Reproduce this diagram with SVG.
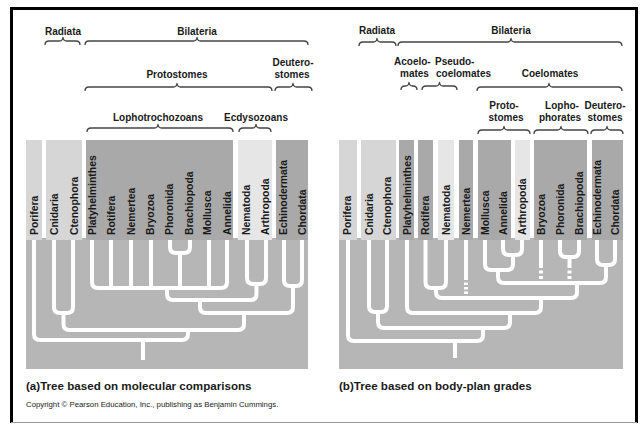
<svg xmlns="http://www.w3.org/2000/svg" width="643" height="424" viewBox="0 0 643 424">
<style>
text{font-family:"Liberation Sans",Arial,sans-serif;fill:#1a1a1a;font-weight:bold}
.hd{font-size:10px;text-anchor:middle}
.hs{font-size:10px}
.col{font-size:10.4px}
.cap{font-size:11.6px}
.cr{font-size:7.8px;font-weight:normal}
.lt{fill:#d6d6d6}
.xl{fill:#e6e6e6}
.dk{fill:#a9a9a9}
.bg{fill:#b6b6b6}
.br{fill:none;stroke:#fff;stroke-width:4}
.ds{fill:none;stroke:#fff;stroke-width:4}
.bc{fill:none;stroke:#444;stroke-width:1.3;stroke-linejoin:round}
</style>
<rect width="643" height="424" fill="#fff"/>
<path d="M11.5,423 V8.5 H636.5 V423" fill="none" stroke="#000" stroke-width="3"/>
<line x1="11" y1="422.5" x2="637" y2="422.5" stroke="#999" stroke-width="1"/>

<!-- Panel A backgrounds -->
<g id="panelA-bg">
<rect class="bg" x="26" y="238" width="282" height="131"/>
<rect class="lt" x="26" y="140" width="16" height="100"/>
<rect class="lt" x="46" y="140" width="36" height="100"/>
<rect class="dk" x="86" y="140" width="147" height="100"/>
<rect class="xl" x="238" y="140" width="34" height="100"/>
<rect class="dk" x="276" y="140" width="32" height="100"/>
</g>
<!-- Panel B backgrounds -->
<g id="panelB-bg">
<rect class="bg" x="339" y="238" width="284" height="131"/>
<rect class="lt" x="339" y="140" width="18" height="100"/>
<rect class="lt" x="361" y="140" width="35" height="100"/>
<rect class="dk" x="399" y="140" width="15" height="100"/>
<rect class="dk" x="418" y="140" width="15" height="100"/>
<rect class="xl" x="438" y="140" width="16" height="100"/>
<rect class="dk" x="459" y="140" width="14" height="100"/>
<rect class="dk" x="478" y="140" width="33" height="100"/>
<rect class="xl" x="515" y="140" width="15" height="100"/>
<rect class="dk" x="534" y="140" width="53" height="100"/>
<rect class="dk" x="592" y="140" width="31" height="100"/>
</g>

<g id="connectors">
<!-- Tree A -->
<path class="br" d="M34,240 V334 Q34,340 40,340 H182 Q188,340 188,334 V330"/>
<path class="br" d="M143,340 V360"/>
<path class="br" d="M54,240 V307 Q54,313 60,313 H67 Q73,313 73,307 V240"/>
<path class="br" d="M63.5,313 V324 Q63.5,330 69.5,330 H238 Q244,330 244,324 V313"/>
<path class="br" d="M200,300 V307 Q200,313 206,313 H287 Q293,313 293,307 V286"/>
<path class="br" d="M284,240 V280 Q284,286 290,286 H296 Q302,286 302,280 V240"/>
<path class="br" d="M167,288 V294 Q167,300 173,300 H250.5 Q256.5,300 256.5,294 V284"/>
<path class="br" d="M247,240 V278 Q247,284 253,284 H260 Q266,284 266,278 V240"/>
<path class="br" d="M92,240 V282 Q92,288 98,288 H221 Q227,288 227,282 V240"/>
<path class="br" d="M111,240 V288 M131,240 V288 M151,240 V288 M209,240 V288 M180,253 V288"/>
<path class="br" d="M170,240 V247 Q170,253 176,253 H184 Q190,253 190,247 V240"/>
<!-- Tree B -->
<path class="br" d="M348,240 V335 Q348,341 354,341 H477 Q483,341 483,335 V328"/>
<path class="br" d="M455,341 V358"/>
<path class="br" d="M369,240 V306 Q369,312 375,312 H381 Q387,312 387,306 V240"/>
<path class="br" d="M378,312 V322 Q378,328 384,328 H504 Q510,328 510,322 V313"/>
<path class="br" d="M407,240 V307 Q407,313 413,313 H535 Q541,313 541,307 V298"/>
<path class="br" d="M436,288 V292 Q436,298 442,298 H571 Q577,298 577,292 V283"/>
<path class="br" d="M425.5,240 V282 Q425.5,288 431.5,288 H440 Q446,288 446,282 V240"/>
<path class="br" d="M466,240 V280"/>
<path class="ds" d="M466,282.5 V285 M466,287 V289.5 M466,291.5 V294"/>
<path class="br" d="M498,270 V277 Q498,283 504,283 H600 Q606,283 606,277 V265"/>
<path class="br" d="M485,240 V264 Q485,270 491,270 H507 Q513,270 513,264 V255"/>
<path class="br" d="M503,240 V249 Q503,255 509,255 H516 Q522,255 522,249 V240"/>
<path class="br" d="M597,240 V259 Q597,265 603,265 H609 Q615,265 615,259 V240"/>
<path class="br" d="M541,240 V268 M569.5,257 V268"/>
<path class="br" d="M560,240 V251 Q560,257 566,257 H573 Q579,257 579,251 V240"/>
<path class="ds" d="M541,270.5 V273.5 M541,276 V279 M569.5,270.5 V273.5 M569.5,276 V279"/>
<!-- Braces A -->
<path class="bc" d="M45,45 Q45,41 49,41 H59.5 Q62.5,41 63,37.5 Q63.5,41 66.5,41 H76 Q80,41 80,45"/>
<path class="bc" d="M85,45 Q85,41 89,41 H193.5 Q196.5,41 197,37.5 Q197.5,41 200.5,41 H304 Q308,41 308,45"/>
<path class="bc" d="M85,91 Q85,87 89,87 H173.5 Q176.5,87 177,83.5 Q177.5,87 180.5,87 H268 Q272,87 272,91"/>
<path class="bc" d="M275,91 Q275,87 279,87 H289.5 Q292.5,87 293,83.5 Q293.5,87 296.5,87 H308 Q312,87 312,91"/>
<path class="bc" d="M87,132 Q87,128 91,128 H154.5 Q157.5,128 158,124.5 Q158.5,128 161.5,128 H229 Q233,128 233,132"/>
<path class="bc" d="M239,132 Q239,128 243,128 H252.5 Q255.5,128 256,124.5 Q256.5,128 259.5,128 H267 Q271,128 271,132"/>
<!-- Braces B -->
<path class="bc" d="M359,46 Q359,42 363,42 H373.5 Q376.5,42 377,38.5 Q377.5,42 380.5,42 H392 Q396,42 396,46"/>
<path class="bc" d="M398,46 Q398,42 402,42 H507.5 Q510.5,42 511,38.5 Q511.5,42 514.5,42 H618 Q622,42 622,46"/>
<path class="bc" d="M401,90 Q401,86 405,86 H405.5 Q408.5,86 409,82.5 Q409.5,86 412.5,86 H413 Q417,86 417,90"/>
<path class="bc" d="M422,90 Q422,86 426,86 H436 Q439,86 439.5,82.5 Q440,86 443,86 H453 Q457,86 457,90"/>
<path class="bc" d="M477,91 Q477,87 481,87 H545.5 Q548.5,87 549,83.5 Q549.5,87 552.5,87 H618 Q622,87 622,91"/>
<path class="bc" d="M478,134 Q478,130 482,130 H500.5 Q503.5,130 504,126.5 Q504.5,130 507.5,130 H526 Q530,130 530,134"/>
<path class="bc" d="M534,134 Q534,130 538,130 H557.5 Q560.5,130 561,126.5 Q561.5,130 564.5,130 H584 Q588,130 588,134"/>
<path class="bc" d="M591,134 Q591,130 595,130 H603.5 Q606.5,130 607,126.5 Q607.5,130 610.5,130 H619 Q623,130 623,134"/>
</g>

<!-- Clade label nodes, panel A -->
<g id="a-radiata"><text class="hd" x="63" y="35">Radiata</text></g>
<g id="a-bilateria"><text class="hd" x="197" y="35">Bilateria</text></g>
<g id="a-protostomes"><text class="hd" x="177" y="78">Protostomes</text></g>
<g id="a-deuterostomes"><text class="hd" x="293" y="66">Deutero-</text><text class="hd" x="292" y="78">stomes</text></g>
<g id="a-lophotrochozoans"><text class="hd" x="158" y="121">Lophotrochozoans</text></g>
<g id="a-ecdysozoans"><text class="hd" x="256" y="121">Ecdysozoans</text></g>

<!-- Clade label nodes, panel B -->
<g id="b-radiata"><text class="hd" x="377" y="34">Radiata</text></g>
<g id="b-bilateria"><text class="hd" x="511" y="34">Bilateria</text></g>
<g id="b-acoelomates"><text class="hs" x="394" y="65">Acoelo-</text><text class="hs" x="400" y="77">mates</text></g>
<g id="b-pseudocoelomates"><text class="hs" x="435" y="65">Pseudo-</text><text class="hs" x="436" y="77">coelomates</text></g>
<g id="b-coelomates"><text class="hd" x="550" y="77">Coelomates</text></g>
<g id="b-protostomes"><text class="hd" x="504" y="109">Proto-</text><text class="hd" x="506" y="121">stomes</text></g>
<g id="b-lophophorates"><text class="hd" x="562" y="109">Lopho-</text><text class="hd" x="560" y="121">phorates</text></g>
<g id="b-deuterostomes"><text class="hd" x="605" y="109">Deutero-</text><text class="hd" x="605" y="121">stomes</text></g>

<!-- Taxon nodes, panel A -->
<g id="a-porifera"><text class="col" transform="translate(37.5,235) rotate(-90)">Porifera</text></g>
<g id="a-cnidaria"><text class="col" transform="translate(58,235) rotate(-90)">Cnidaria</text></g>
<g id="a-ctenophora"><text class="col" transform="translate(78,235) rotate(-90)">Ctenophora</text></g>
<g id="a-platyhelminthes"><text class="col" transform="translate(95.5,235) rotate(-90)">Platyhelminthes</text></g>
<g id="a-rotifera"><text class="col" transform="translate(115,235) rotate(-90)">Rotifera</text></g>
<g id="a-nemertea"><text class="col" transform="translate(134.5,235) rotate(-90)">Nemertea</text></g>
<g id="a-bryozoa"><text class="col" transform="translate(154,235) rotate(-90)">Bryozoa</text></g>
<g id="a-phoronida"><text class="col" transform="translate(173,235) rotate(-90)">Phoronida</text></g>
<g id="a-brachiopoda"><text class="col" transform="translate(193,235) rotate(-90)">Brachiopoda</text></g>
<g id="a-mollusca"><text class="col" transform="translate(211,235) rotate(-90)">Mollusca</text></g>
<g id="a-annelida"><text class="col" transform="translate(230.5,235) rotate(-90)">Annelida</text></g>
<g id="a-nematoda"><text class="col" transform="translate(250,235) rotate(-90)">Nematoda</text></g>
<g id="a-arthropoda"><text class="col" transform="translate(269,235) rotate(-90)">Arthropoda</text></g>
<g id="a-echinodermata"><text class="col" transform="translate(287,235) rotate(-90)">Echinodermata</text></g>
<g id="a-chordata"><text class="col" transform="translate(305.5,235) rotate(-90)">Chordata</text></g>

<!-- Taxon nodes, panel B -->
<g id="b-porifera"><text class="col" transform="translate(351,235) rotate(-90)">Porifera</text></g>
<g id="b-cnidaria"><text class="col" transform="translate(372.5,235) rotate(-90)">Cnidaria</text></g>
<g id="b-ctenophora"><text class="col" transform="translate(390.5,235) rotate(-90)">Ctenophora</text></g>
<g id="b-platyhelminthes"><text class="col" transform="translate(410.5,235) rotate(-90)">Platyhelminthes</text></g>
<g id="b-rotifera"><text class="col" transform="translate(429,235) rotate(-90)">Rotifera</text></g>
<g id="b-nematoda"><text class="col" transform="translate(449.5,235) rotate(-90)">Nematoda</text></g>
<g id="b-nemertea"><text class="col" transform="translate(469.5,235) rotate(-90)">Nemertea</text></g>
<g id="b-mollusca"><text class="col" transform="translate(488.5,235) rotate(-90)">Mollusca</text></g>
<g id="b-annelida"><text class="col" transform="translate(506.5,235) rotate(-90)">Annelida</text></g>
<g id="b-arthropoda"><text class="col" transform="translate(526,235) rotate(-90)">Arthropoda</text></g>
<g id="b-bryozoa"><text class="col" transform="translate(544.5,235) rotate(-90)">Bryozoa</text></g>
<g id="b-phoronida"><text class="col" transform="translate(563.5,235) rotate(-90)">Phoronida</text></g>
<g id="b-brachiopoda"><text class="col" transform="translate(582.5,235) rotate(-90)">Brachiopoda</text></g>
<g id="b-echinodermata"><text class="col" transform="translate(600.5,235) rotate(-90)">Echinodermata</text></g>
<g id="b-chordata"><text class="col" transform="translate(619,235) rotate(-90)">Chordata</text></g>

<!-- Captions -->
<g id="caption-a"><text class="cap" x="26" y="390">(a)Tree based on molecular comparisons</text></g>
<g id="caption-b"><text class="cap" x="339" y="390">(b)Tree based on body-plan grades</text></g>
<g id="copyright"><text class="cr" x="26" y="407">Copyright © Pearson Education, Inc., publishing as Benjamin Cummings.</text></g>
</svg>
